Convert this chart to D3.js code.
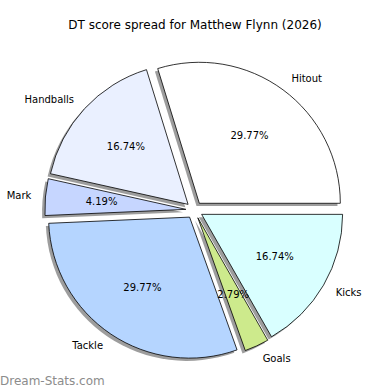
<!DOCTYPE html>
<html>
<head>
<meta charset="utf-8">
<script src="https://cdn.jsdelivr.net/npm/d3@7"></script>
<style>
  body { margin: 0; background: #fff; }
  text { font-family: "DejaVu Sans", sans-serif; fill: #000; }
</style>
</head>
<body>
<div id="chart"></div>
<script>
// DT points per stat type
var categories = ["Hitout", "Handballs", "Mark", "Tackle", "Goals", "Kicks"];
var points = [64, 36, 9, 64, 6, 36];
var colors = ["#ffffff", "#eaf0ff", "#c6d6ff", "#b5d5ff", "#cdea8c", "#d9ffff"];

var W = 390, H = 390;
var cx = 194.3, cy = 210.1, r = 141;
var explode = 0.06 * r, shadowOff = 0.02 * r;

var svg = d3.select("#chart").append("svg")
    .attr("width", W)
    .attr("height", H);

var total = d3.sum(points);
var rows = categories.map(function(c, i) { return {name: c, value: points[i], color: colors[i]}; });

// counter-clockwise starting at 3 o'clock
var pie = d3.pie().sort(null).value(function(d) { return d.value; })
    .startAngle(Math.PI / 2).endAngle(Math.PI / 2 - 2 * Math.PI);
var arcs = pie(rows);
var arc = d3.arc().innerRadius(0).outerRadius(r);

function dir(d) {
  var a = (d.startAngle + d.endAngle) / 2;
  return [Math.sin(a), -Math.cos(a)];
}
function tip(d) {
  var u = dir(d);
  return [cx + explode * u[0], cy + explode * u[1]];
}

// shadows
svg.append("g").selectAll("path")
    .data(arcs)
    .enter()
    .append("path")
    .attr("d", arc)
    .attr("transform", function(d) { var t = tip(d); return "translate(" + (t[0] - shadowOff) + "," + (t[1] + shadowOff) + ")"; })
    .attr("fill", "#8c8c8c")
    .attr("fill-opacity", 0.85)
    .attr("stroke", "none");

// wedges
svg.append("g").selectAll("path")
    .data(arcs)
    .enter()
    .append("path")
    .attr("d", arc)
    .attr("transform", function(d) { var t = tip(d); return "translate(" + t[0] + "," + t[1] + ")"; })
    .attr("fill", function(d) { return d.data.color; })
    .attr("stroke", "#000")
    .attr("stroke-width", 0.8)
    .attr("stroke-linejoin", "round");

// category labels
svg.append("g").selectAll("text")
    .data(arcs)
    .enter()
    .append("text")
    .attr("x", function(d) { return tip(d)[0] + 1.1 * r * dir(d)[0]; })
    .attr("y", function(d) { return tip(d)[1] + 1.1 * r * dir(d)[1]; })
    .attr("dy", "0.35em")
    .attr("text-anchor", function(d) { return dir(d)[0] > 0 ? "start" : "end"; })
    .style("font-size", "10px")
    .text(function(d) { return d.data.name; });

// percentages
svg.append("g").selectAll("text")
    .data(arcs)
    .enter()
    .append("text")
    .attr("x", function(d) { return tip(d)[0] + 0.6 * r * dir(d)[0]; })
    .attr("y", function(d) { return tip(d)[1] + 0.6 * r * dir(d)[1]; })
    .attr("dy", "0.35em")
    .attr("text-anchor", "middle")
    .style("font-size", "10px")
    .text(function(d) { return (100 * d.data.value / total).toFixed(2) + "%"; });

svg.append("text")
    .attr("x", 195)
    .attr("y", 29)
    .attr("text-anchor", "middle")
    .style("font-size", "12px")
    .text("DT score spread for Matthew Flynn (2026)");

svg.append("text")
    .attr("x", 0)
    .attr("y", 385)
    .style("font-size", "12px")
    .style("fill", "#8c8c8c")
    .text("Dream-Stats.com");
</script>
</body>
</html>
